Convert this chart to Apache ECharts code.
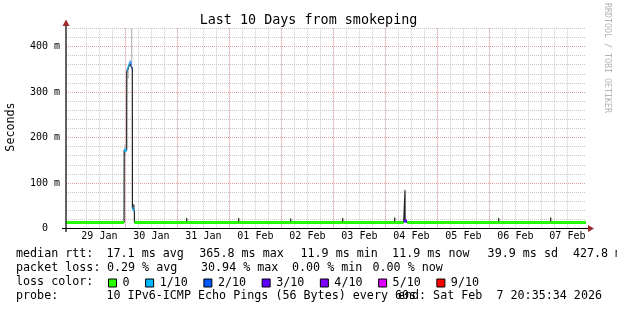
<!DOCTYPE html>
<html><head><meta charset="utf-8">
<script src="https://cdn.jsdelivr.net/npm/echarts@6/dist/echarts.min.js"></script>
<style>html,body{margin:0;padding:0;background:#fff;}#c{width:617px;height:310px;}</style>
</head><body><div id="c"></div>
<script>
// time unit: hours since 2026-01-28 00:00
const rangeStart = 20.5928;   // 28 Jan 20:35:34
const rangeEnd = 260.5928;    // 07 Feb 20:35:34

const xTickHours = [36, 60, 84, 108, 132, 156, 180, 204, 228, 252];
const xTickLabels = ['29 Jan', '30 Jan', '31 Jan', '01 Feb', '02 Feb', '03 Feb', '04 Feb', '05 Feb', '06 Feb', '07 Feb'];
const majorGridHours = [24, 48, 72, 96, 120, 144, 168, 192, 216, 240];
const minorGridHours = [24, 30, 36, 42, 48, 54, 60, 66, 72, 78, 84, 90, 96, 102, 108, 114, 120, 126, 132, 138,
  144, 150, 156, 162, 168, 174, 180, 186, 192, 198, 204, 210, 216, 222, 228, 234, 240, 246, 252, 258];
const yTickValues = [0, 0.1, 0.2, 0.3, 0.4];
const yTickLabels = ['0  ', '100 m', '200 m', '300 m', '400 m'];

// median rtt (seconds) and loss count (of 10 pings)
const medianTimes = [20.5928, 28.25, 28.3, 28.35, 47.4, 47.45, 48.6, 48.65, 49.1, 49.55, 50.0, 50.45, 50.9, 51.2, 51.25, 51.7, 52.15, 52.2,
  76.25, 76.3, 76.35, 100.25, 100.3, 100.35, 124.25, 124.3, 124.35, 148.25, 148.3, 148.35, 172.25, 172.3, 172.35,
  176.45, 177.0, 177.05, 177.1, 178.0, 178.05, 196.25, 196.3, 196.35, 220.25, 220.3, 220.35, 244.25, 244.3, 244.35, 260.5928];
const medianValues = [0.0132, 0.0132, 0.015, 0.0132, 0.0132, 0.172, 0.172, 0.345, 0.350, 0.356, 0.362, 0.366, 0.362, 0.352, 0.045, 0.044, 0.040, 0.0132,
  0.0132, 0.023, 0.0132, 0.0132, 0.023, 0.0132, 0.0132, 0.022, 0.0132, 0.0132, 0.023, 0.0132, 0.0132, 0.024, 0.0132,
  0.0132, 0.0165, 0.084, 0.0165, 0.0165, 0.0132, 0.0132, 0.017, 0.0132, 0.0132, 0.023, 0.0132, 0.0132, 0.024, 0.0132, 0.0132];
const medianLoss = [0, 0, 0, 0, 0, 1, 1, 1, 1, 1, 1, 2, 2, 2, 1, 1, 1, 0,
  0, 0, 0, 0, 0, 0, 0, 0, 0, 0, 0, 0, 0, 0, 0,
  0, 3, 3, 3, 3, 0, 0, 0, 0, 0, 0, 0, 0, 0, 0, 0];

// smoke (ping spread)
const smokeTimes = [47.9, 49.3, 50.9, 51.45, 51.9];
const smokeLow = [0.160, 0.330, 0.365, 0.043, 0.043];
const smokeHigh = [0.185, 0.355, 0.440, 0.053, 0.053];
const smokeDensity = [0.25, 0.25, 0.22, 0.8, 0.8];

const lossNames = ['0', '1/10', '2/10', '3/10', '4/10', '5/10', '9/10'];
const lossCounts = [0, 1, 2, 3, 4, 5, 9];
const lossColors = ['#26ff00', '#00b8ff', '#0059ff', '#5e00ff', '#7e00ff', '#dd00ff', '#ff0000'];

const MONO = '"DejaVu Sans Mono"';
const chart = echarts.init(document.getElementById('c'), null, {renderer: 'canvas'});

const smokeData = smokeTimes.map((t, i) => [t, smokeLow[i], smokeHigh[i], smokeDensity[i]]);
const medianData = medianTimes.map((t, i) => [t, medianValues[i]]);

const bandSeries = lossCounts.map((cnt, ci) => {
  const rows = [];
  for (let i = 1; i < medianTimes.length; i++) {
    if (medianLoss[i] === cnt) rows.push([medianTimes[i - 1], medianTimes[i], medianValues[i]]);
  }
  return {
    name: lossNames[ci], type: 'custom', xAxisIndex: 0, yAxisIndex: 0, z: 5,
    itemStyle: {color: lossColors[ci]},
    encode: {x: [0, 1], y: 2},
    data: rows,
    renderItem: function (params, api) {
      const a = api.coord([api.value(0), api.value(2)]);
      const b = api.coord([api.value(1), api.value(2)]);
      return {type: 'rect', shape: {x: a[0], y: a[1] - 1.5, width: b[0] - a[0], height: 3},
        style: {fill: lossColors[ci]}};
    }
  };
});

function txt(x, y, s, align) {
  return {type: 'text', x: x, y: y, silent: true, z: 50,
    style: {text: s, font: '11.7px ' + MONO, fill: '#000', align: align || 'left', verticalAlign: 'middle',
      textAlign: align || 'left', textVerticalAlign: 'middle'}};
}

const arrowColor = '#9e2b2b';

const option = {
  animation: false,
  backgroundColor: '#fff',
  title: {text: 'Last 10 Days from smokeping', left: 'center', top: 9.5,
    textStyle: {fontFamily: MONO, fontSize: 13.4, fontWeight: 'normal', color: '#000'}},
  grid: {left: 66, right: 31, top: 28.3, bottom: 81.5, containLabel: false},
  legend: {
    data: lossNames.map((n, i) => ({name: n, icon: 'rect',
      itemStyle: {color: lossColors[i], borderColor: '#000', borderWidth: 1}})),
    left: 108, top: 277, itemWidth: 8, itemHeight: 8, itemGap: 15.6, padding: 0, selectedMode: false,
    textStyle: {fontFamily: MONO, fontSize: 11.7, color: '#000', padding: [0, 0, 0, 1]}
  },
  xAxis: [
    {type: 'value', min: rangeStart, max: rangeEnd, z: 2,
      axisLine: {show: false},
      axisTick: {show: false, customValues: majorGridHours},
      axisLabel: {customValues: xTickHours, margin: 3, fontFamily: MONO, fontSize: 10, color: '#000',
        formatter: v => { const k = xTickHours.indexOf(Math.round(v)); return k >= 0 ? xTickLabels[k] : ''; }},
      splitLine: {show: true, showMinLine: false, showMaxLine: false, lineStyle: {color: '#e6a0a0', width: 1, type: [1, 1]}}
    },
    {type: 'value', min: rangeStart, max: rangeEnd, z: 1, position: 'bottom',
      axisLine: {show: false},
      axisTick: {show: false, customValues: minorGridHours},
      axisLabel: {show: false},
      splitLine: {show: true, showMinLine: false, showMaxLine: false, lineStyle: {color: '#c8c8c8', width: 1, type: [1, 1]}}
    }
  ],
  yAxis: [
    {type: 'value', min: 0, max: 0.44, interval: 0.1, z: 2, position: 'left',
      axisLine: {show: false}, axisTick: {show: false},
      axisLabel: {margin: 6, fontFamily: MONO, fontSize: 10, color: '#000', showMaxLabel: false,
        formatter: v => { const k = yTickValues.findIndex(t => Math.abs(t - v) < 1e-9); return k >= 0 ? yTickLabels[k] : ''; }},
      splitLine: {show: true, showMinLine: false, showMaxLine: false, lineStyle: {color: '#e6a0a0', width: 1, type: [1, 1]}}
    },
    {type: 'value', min: 0, max: 0.44, interval: 0.02, z: 1, position: 'left',
      axisLine: {show: false}, axisTick: {show: false}, axisLabel: {show: false},
      splitLine: {show: true, showMinLine: false, lineStyle: {color: '#c8c8c8', width: 1, type: [1, 1]}}
    }
  ],
  series: [
    {name: 'smoke', type: 'custom', xAxisIndex: 0, yAxisIndex: 0, z: 3,
      encode: {x: 0, y: [1, 2]}, data: smokeData,
      renderItem: function (params, api) {
        const lo = api.coord([api.value(0), api.value(1)]);
        const hi = api.coord([api.value(0), api.value(2)]);
        const g = Math.round(235 - api.value(3) * 200);
        return {type: 'rect', shape: {x: lo[0] - 0.7, y: hi[1], width: 1.4, height: lo[1] - hi[1]},
          style: {fill: 'rgb(' + g + ',' + g + ',' + g + ')'}};
      }
    },
    {name: 'median', type: 'line', xAxisIndex: 0, yAxisIndex: 0, z: 4, data: medianData,
      showSymbol: false, symbol: 'none', clip: true,
      lineStyle: {color: '#202020', width: 1.2}}
  ].concat(bandSeries),
  graphic: [
    // axes and arrows
    {type: 'line', z: 40, silent: true, shape: {x1: 66, y1: 24, x2: 66, y2: 232}, style: {stroke: '#222', lineWidth: 1.4}},
    {type: 'line', z: 40, silent: true, shape: {x1: 62, y1: 228.5, x2: 588, y2: 228.5}, style: {stroke: '#000', lineWidth: 1}},
    {type: 'polygon', z: 41, silent: true, shape: {points: [[66, 19.5], [62.5, 26], [69.5, 26]]}, style: {fill: arrowColor}},
    {type: 'polygon', z: 41, silent: true, shape: {points: [[594, 228.5], [588, 225], [588, 232]]}, style: {fill: arrowColor}},
    // axis title and watermark
    {type: 'text', x: 11, y: 127, rotation: Math.PI / 2, silent: true,
      style: {text: 'Seconds', font: '11.7px ' + MONO, fill: '#000', align: 'center', verticalAlign: 'middle', textAlign: 'center', textVerticalAlign: 'middle'}},
    {type: 'text', x: 607, y: 58, rotation: -Math.PI / 2, silent: true,
      style: {text: 'RRDTOOL / TOBI OETIKER', font: '8.3px ' + MONO, fill: '#b4b4b4', align: 'center', verticalAlign: 'middle', textAlign: 'center', textVerticalAlign: 'middle'}},
    // legend statistics
    txt(16, 254, 'median rtt:'), txt(106.5, 254, '17.1 ms avg'), txt(199.3, 254, '365.8 ms max'),
    txt(300.5, 254, '11.9 ms min'), txt(392.1, 254, '11.9 ms now'), txt(487.6, 254, '39.9 ms sd'),
    txt(572.9, 254, '427.8 m am/s'),
    txt(16, 268, 'packet loss:'), txt(106.9, 268, '0.29 % avg'), txt(201, 268, '30.94 % max'),
    txt(292, 268, '0.00 % min'), txt(372.5, 268, '0.00 % now'),
    txt(16, 282, 'loss color:'),
    txt(16, 296, 'probe:'), txt(106.5, 296, '10 IPv6-ICMP Echo Pings (56 Bytes) every 60s'),
    txt(602, 296, 'end: Sat Feb  7 20:35:34 2026', 'right')
  ]
};
chart.setOption(option);
</script>
</body></html>
